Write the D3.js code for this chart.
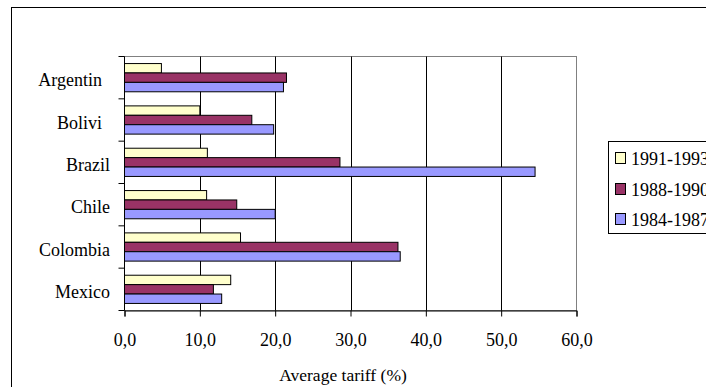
<!DOCTYPE html>
<html>
<head>
<meta charset="utf-8">
<script src="https://cdn.jsdelivr.net/npm/d3@7"></script>
<style>
  html, body { margin: 0; padding: 0; background: #fff; }
  svg { display: block; }
</style>
</head>
<body>
<svg id="chart" width="706" height="387"></svg>
<script>
// ---- data ----
const categories = ["Argentin", "Bolivi", "Brazil", "Chile", "Colombia", "Mexico"];
const fullNames = ["Argentina", "Bolivia", "Brazil", "Chile", "Colombia", "Mexico"];
const seriesNames = ["1991-1993", "1988-1990", "1984-1987"];
const s1991_1993 = [4.9, 10.0, 11.0, 10.9, 15.4, 14.1];
const s1988_1990 = [21.5, 16.9, 28.6, 14.9, 36.3, 11.8];
const s1984_1987 = [21.1, 19.8, 54.5, 20.0, 36.6, 12.9];
const seriesValues = [s1991_1993, s1988_1990, s1984_1987];
const seriesColors = ["#FFFFCC", "#993366", "#9999FF"];
const xTicks = [0, 10, 20, 30, 40, 50, 60];
const xTitle = "Average tariff (%)";

const FONT = "'Liberation Serif', 'Times New Roman', Times, 'DejaVu Serif', serif";

// ---- layout ----
const svg = d3.select("#chart");
const pL = 124.5, pR = 576.5, pT = 56.5, pB = 310.5;

// outer chart border
svg.append("rect").attr("x", 11.5).attr("y", 7.5).attr("width", 720).attr("height", 400)
  .attr("fill", "#fff").attr("stroke", "#000").attr("stroke-width", 1);

const x = d3.scaleLinear().domain([0, 60]).range([pL, pR]);
const y0 = d3.scaleBand().domain(categories).range([pT, pB]).padding(0);
const bw = y0.bandwidth();
const y1 = d3.scaleBand().domain(seriesNames).range([bw / 6, bw * 5 / 6]).padding(0);

// plot area border (grey)
svg.append("rect").attr("x", pL).attr("y", pT).attr("width", pR - pL).attr("height", pB - pT)
  .attr("fill", "#fff").attr("stroke", "#808080").attr("stroke-width", 1);

// gridlines
svg.append("g").selectAll("line").data(xTicks.filter(d => d > 0 && d < 60)).join("line")
  .attr("x1", d => Math.round(x(d)) + 0.5).attr("x2", d => Math.round(x(d)) + 0.5)
  .attr("y1", pT).attr("y2", pB)
  .attr("stroke", "#000").attr("stroke-width", 1);

// bars
const rows = [];
categories.forEach((c, i) => {
  seriesNames.forEach((s, j) => rows.push({ c, s, v: seriesValues[j][i], color: seriesColors[j] }));
});
svg.append("g").selectAll("rect").data(rows).join("rect")
  .attr("x", x(0))
  .attr("y", d => y0(d.c) + y1(d.s))
  .attr("width", d => x(d.v) - x(0))
  .attr("height", y1.bandwidth())
  .attr("fill", d => d.color)
  .attr("stroke", "#000").attr("stroke-width", 1);

// x axis
const xAxis = d3.axisBottom(x).tickValues(xTicks).tickSize(6).tickPadding(0)
  .tickFormat(d => d3.format(".1f")(d).replace(".", ","));
const gx = svg.append("g").attr("transform", `translate(0,${pB})`).call(xAxis)
  .attr("font-family", FONT).attr("font-size", 18);
gx.select(".domain").attr("stroke", "#000");
gx.selectAll(".tick line").attr("stroke", "#000");
gx.selectAll(".tick text").attr("y", 0).attr("dy", null).attr("transform", "translate(0,35.5)")
  .attr("fill", "#000");

// y axis: ticks at category boundaries
const gy = svg.append("g").attr("font-family", FONT).attr("font-size", 18);
gy.append("line").attr("x1", pL).attr("x2", pL).attr("y1", pT).attr("y2", pB).attr("stroke", "#000");
const bounds = categories.map(c => y0(c)).concat([pB]);
gy.selectAll("line.tk").data(bounds).join("line").attr("class", "tk")
  .attr("x1", pL - 6).attr("x2", pL).attr("y1", d => d).attr("y2", d => d).attr("stroke", "#000");
// labels: the full name is right-aligned, the shown (clipped) text keeps its start
const labels = gy.selectAll("text.lab").data(categories).join("text").attr("class", "lab")
  .attr("y", d => y0(d) + bw / 2 + 8.5)
  .attr("fill", "#000")
  .text(d => d);
labels.each(function (d, i) {
  const el = d3.select(this);
  el.text(fullNames[i]);
  const wFull = this.getComputedTextLength();
  el.text(d);
  el.attr("x", 110 - wFull);
});

// x axis title
svg.append("text").attr("x", 343).attr("y", 381).attr("text-anchor", "middle")
  .attr("font-family", FONT).attr("font-size", 17.5).attr("fill", "#000").text(xTitle);

// legend
const lg = svg.append("g").attr("font-family", FONT).attr("font-size", 18);
lg.append("rect").attr("x", 608.5).attr("y", 141.5).attr("width", 140).attr("height", 92)
  .attr("fill", "#fff").attr("stroke", "#000").attr("stroke-width", 1);
const ly = [158, 189, 219];
seriesNames.forEach((s, j) => {
  lg.append("rect").attr("x", 615.5).attr("y", ly[j] - 5.5).attr("width", 10).attr("height", 11)
    .attr("fill", seriesColors[j]).attr("stroke", "#000").attr("stroke-width", 1);
  lg.append("text").attr("x", 631).attr("y", ly[j] + 6.5).attr("fill", "#000").text(s);
});
</script>
</body>
</html>
